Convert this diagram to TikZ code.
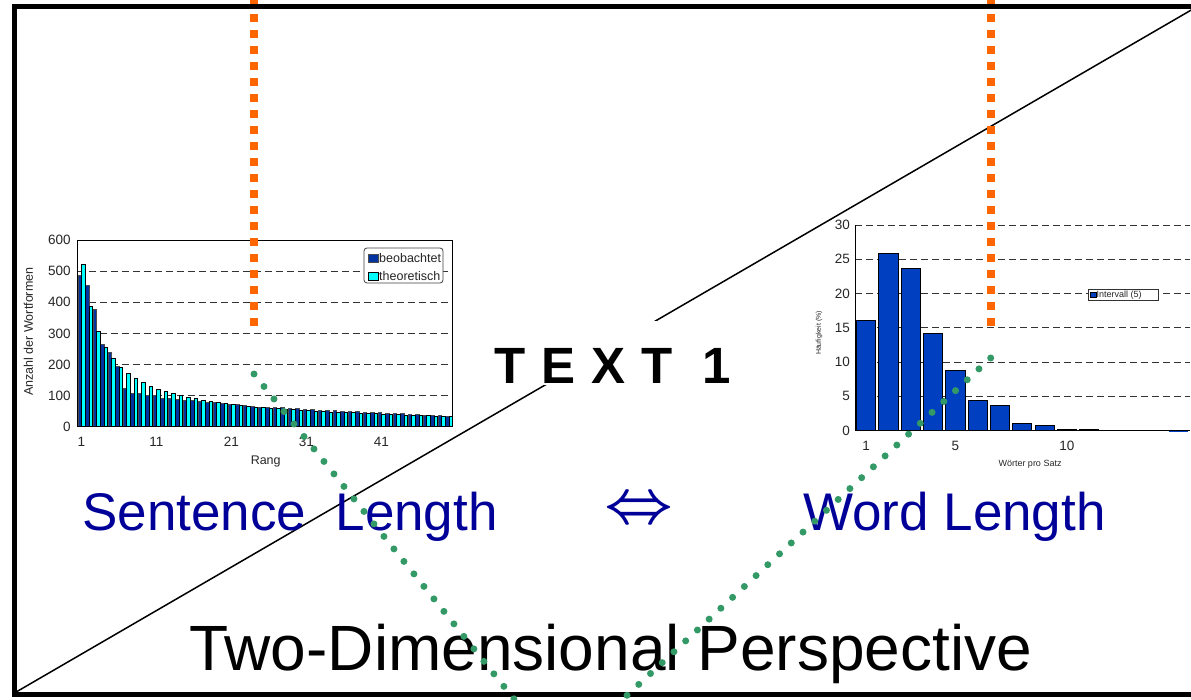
\documentclass[tikz,border=0pt]{standalone}
\usepackage{graphicx}
\usepackage{fontspec}
\setmainfont{Liberation Sans}

\definecolor{slideblue}{RGB}{0,0,153}
\definecolor{obsblue}{RGB}{0,51,160}
\definecolor{theocyan}{RGB}{0,255,255}
\definecolor{barblue}{RGB}{0,64,192}
\definecolor{markorange}{RGB}{255,102,0}
\definecolor{markgreen}{RGB}{51,153,102}

\tikzset{
  gridline/.style={black!80, line width=0.8pt, dash pattern=on 7pt off 4pt},
  obsbar/.style={fill=obsblue, draw=black!70, line width=0.5pt},
  theobar/.style={fill=theocyan, draw=black, line width=0.5pt},
  freqbar/.style={fill=barblue, draw=black, line width=0.8pt},
  ticklabel/.style={font=\fontsize{13.5}{14}\selectfont, text=black!85, inner sep=0pt},
  axislabel/.style={font=\fontsize{12.5}{13}\selectfont, text=black!85, inner sep=0pt},
  smalllabel/.style={font=\fontsize{9}{10}\selectfont, text=black!85, inner sep=0pt},
  orangedots/.style={markorange, line width=8pt, dash pattern=on 8pt off 8pt},
  greendots/.style={markgreen, line width=7pt, line cap=round, dash pattern=on 0pt off 16pt},
  bigtext/.style={inner sep=0pt, anchor=base west},
}

\begin{document}
\begin{tikzpicture}[x=1pt, y=-1pt]
  \useasboundingbox (0,0) rectangle (1191,700);
  \clip (0,0) rectangle (1191,700);

  % Left chart: rank frequencies
  \begin{scope}[shift={(77.7,426.7)}, x=7.5pt, y=0.31111pt]
    \foreach \v in {100,200,...,500}
      \draw[gridline] (0,\v) -- (50,\v);
    \foreach \b [count=\i] in {487,454,379,264,240,195,125,107,106,101,
                               100,92,90,88,85,84,82,79,78,74,
                               72,71,69,67,64,63,62,61,59,58,
                               57,55,54,53,52,51,50,49,48,47,
                               45,44,43,42,41,40,38,37,36,35}
      \draw[obsbar] (\i-0.96,0) rectangle (\i-0.5,\b);
    \foreach \t [count=\i] in {523,387,307,256,220,192,172,157,142,131,
                               120,113,106,100,95,90,86,82,78,75,
                               72,69,66,64,62,60,58,56,55,53,
                               52,50,49,48,47,46,45,44,43,42,
                               41,40,39,38,37,36,36,35,34,34}
      \draw[theobar] (\i-0.5,0) rectangle (\i-0.04,\t);
    \draw[black, line width=0.8pt] (0,0) rectangle (50,600);
    \foreach \v in {0,100,...,600}
      \node[ticklabel, anchor=east] at (-0.9,\v) {\v};
    \foreach \r in {1,11,21,31,41}
      \node[ticklabel, yshift=-15pt] at (\r-0.5,0) {\r};
  \end{scope}
  \node[axislabel, rotate=90] (ylabelleft) at (28.3,331.7) {Anzahl der Wortformen};
  \node[axislabel] (xlabelleft) at (265.7,461) {Rang};
  % Legend
  \draw[rounded corners=3pt, draw=black!75, fill=white, line width=0.8pt] (364,248) rectangle (443,283);
  \draw[obsbar] (368,254) rectangle (378,262);
  \node[axislabel, anchor=west] (legobs) at (379,258) {beobachtet};
  \draw[theobar] (368,272) rectangle (378,280);
  \node[axislabel, anchor=west] (legtheo) at (379,276) {theoretisch};

  % Right chart: sentence length distribution
  \begin{scope}[shift={(855,430.7)}, x=22.3pt, y=6.857pt]
    \foreach \v in {5,10,...,30}
      \draw[gridline] (0,\v) -- (15,\v);
    \foreach \h [count=\i] in {16.1,25.9,23.7,14.2,8.75,4.4,3.65,1.07,0.78,0.24,0.15,0.05,0.03,0.03,0.02}
      \draw[freqbar] (\i-0.93,0) rectangle (\i-0.07,\h);
    \draw[black, line width=1pt] (0,30) -- (0,0) -- (15,0);
    \foreach \v in {0,5,...,30}
      \node[ticklabel, anchor=east, xshift=-5pt] at (0,\v) {\v};
    \foreach \r in {1,5,10}
      \node[ticklabel, yshift=-15pt] at (\r-0.5,0) {\r};
  \end{scope}
  \node[font=\fontsize{7}{8}\selectfont, text=black!85, inner sep=0pt, rotate=90] (ylabelright) at (819,333) {Häufigkeit (\%)};
  \node[smalllabel] (xlabelright) at (1030,464) {Wörter pro Satz};
  \draw[draw=black!80, fill=white, line width=0.8pt] (1088,289) rectangle (1158,300.7);
  \draw[freqbar, line width=0.4pt] (1090,292.5) rectangle (1096,297.5);
  \node[smalllabel, anchor=west] (legint) at (1096.5,295) {Intervall (5)};

  % Diagonal
  \coordinate (cornerlow) at (17,691.5);
  \coordinate (cornerhigh) at (1193,9);
  \draw[black, line width=1.5pt] (cornerlow) -- (cornerhigh);

  % Labels
  \node[fill=white, anchor=base west, inner xsep=10pt, inner ysep=2pt, text height=60pt, text depth=0pt,
        font=\bfseries\fontsize{51}{60}\selectfont] (title) at (484,383)
        {T\hspace{16pt}E\hspace{16pt}X\hspace{16pt}T\hspace{29.5pt}1};
  \node[bigtext, text=slideblue, font=\fontsize{53}{60}\selectfont] (sentence) at (82,530) {Sentence\ \ Length};
  \node[text=slideblue, inner sep=0pt] (equiv) at (638.5,511) {\scalebox{6.0}{\boldmath$\Leftrightarrow$}};
  \node[bigtext, text=slideblue, font=\fontsize{53}{60}\selectfont] (word) at (803,530) {Word Length};
  \node[bigtext, font=\fontsize{64}{70}\selectfont] (perspective) at (189,670) {Two-Dimensional Perspective};

  % Orange markers
  \coordinate (orangeleft) at (254,326);
  \coordinate (orangeright) at (990.5,326);
  \draw[orangedots] (orangeleft) -- (254,-10);
  \draw[orangedots] (orangeright) -- (990.5,-10);

  % Frame
  \draw[black, line width=5pt, line join=miter] (1200,6.5) -| (14.2,694.2) -- (1200,694.2);

  % Green markers
  \coordinate (greenleft) at (254,374);
  \coordinate (greenright) at (990.7,358);
  \draw[greendots] (greenleft) -- (524,711.5);
  \draw[greendots] (greenright) -- (603.6,717);
\end{tikzpicture}
\end{document}
